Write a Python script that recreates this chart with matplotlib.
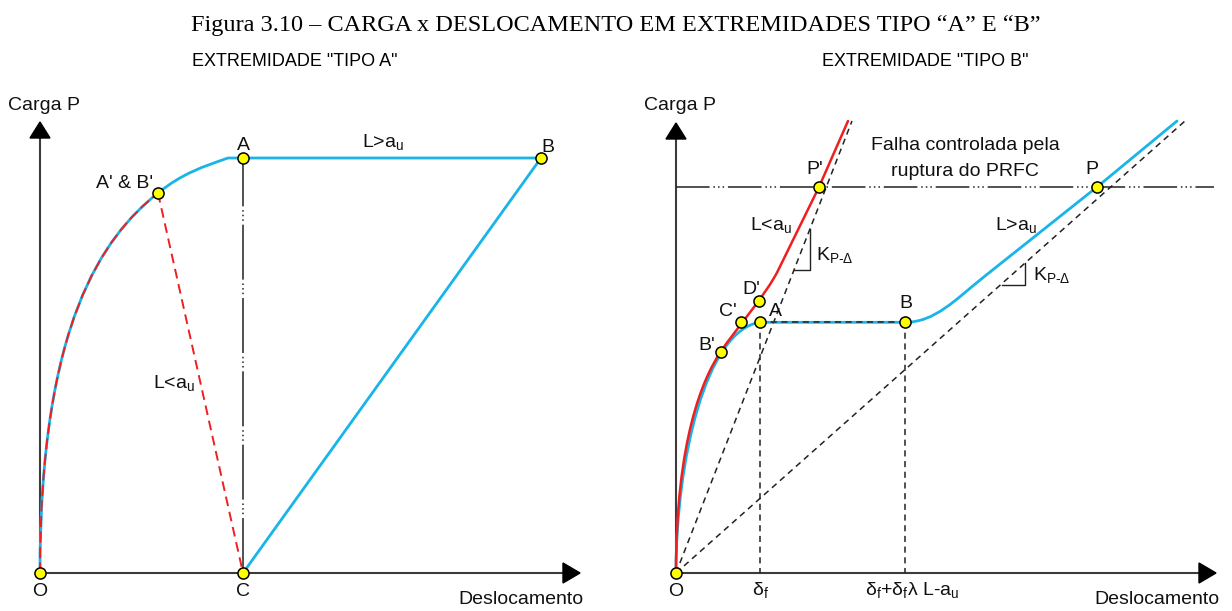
import matplotlib.pyplot as plt
from matplotlib.path import Path
from matplotlib.patches import PathPatch

plt.rcParams['font.family'] = ['Liberation Sans', 'DejaVu Sans']
plt.rcParams['mathtext.fontset'] = 'custom'
plt.rcParams['mathtext.rm'] = 'Liberation Sans'

# cores
azul = '#19B4E8'
vermelho = '#F01E1E'
eixo = '#3C3C3C'

# ---- painel "TIPO A" (coordenadas em pixels da figura) ----
origem_a = (40, 573)
topo_a = 122          # ponta da seta vertical
fim_a = 580           # ponta da seta horizontal

# curva O -> A'&B' -> inicio do patamar (pontos + controles de Bezier)
curva_a = [(40, 573), (40, 323), (103, 237), (158, 193),
           (183, 173), (203, 166.75), (228, 158), (541, 158)]
ponto_ab = (158, 193)
ponto_c = (243, 573)
ponto_b = (541, 158)

pontos_a_x = [40, 243, 243, 541, 158]
pontos_a_y = [573, 573, 158, 158, 193]

# ---- painel "TIPO B" ----
origem_b = (676, 573)
topo_b = 123
fim_b = 1216

curva_azul = [(676, 573), (676, 460), (706, 330), (760, 322.3), (905, 322.3),
              (935, 322.3), (955, 299.9), (985, 276), (1097, 187), (1177, 121)]
curva_verm = [(676, 573), (676, 440), (702.7, 378.7), (720.7, 351.7),
              (735.7, 329.2), (766.3, 294.6), (778.3, 270), (819, 187), (848, 121)]

rigidez_verm = (852, 121)   # fim da reta tracejada K (L<au)
rigidez_azul = (1185, 121)  # fim da reta tracejada K (L>au)
delta_f = 760
delta_fl = 905
nivel_ab = 322.3
nivel_ruptura = 187

pontos_b_x = [676, 720.7, 741, 760, 759.3, 905, 819, 1097]
pontos_b_y = [573, 351.7, 322.3, 322.3, 301, 322.3, 187, 187]

tri1_x = [794, 810, 810]
tri1_y = [270, 270, 229]
tri2_x = [1002, 1025, 1025]
tri2_y = [285, 285, 263]

kpd = "K$_{\\mathregular{P}\\text{-}\\mathregular{Δ}}$"
# rotulos: texto, x, y, alinhamento
rotulos = [
    ("Carga P", 44, 105, 'center'),
    ("A' & B'", 153, 184, 'right'),
    ("A", 243, 146, 'center'),
    ("B", 548, 147, 'center'),
    ("L>a$_\\mathregular{u}$", 383, 143, 'center'),
    ("L<a$_\\mathregular{u}$", 174, 384, 'center'),
    ("O", 40, 591, 'center'),
    ("C", 243, 591, 'center'),
    ("Deslocamento", 584, 600, 'right'),
    ("Carga P", 680, 105, 'center'),
    ("Falha controlada pela", 965, 146, 'center'),
    ("ruptura do PRFC", 965, 171, 'center'),
    ("P'", 815, 170, 'center'),
    ("P", 1092, 170, 'center'),
    ("L<a$_\\mathregular{u}$", 771, 226, 'center'),
    (kpd, 816, 256, 'left'),
    ("L>a$_\\mathregular{u}$", 1016, 226, 'center'),
    (kpd, 1033, 276, 'left'),
    ("D'", 751, 290, 'center'),
    ("C'", 728, 312, 'center'),
    ("A", 775, 311, 'center'),
    ("B", 906, 304, 'center'),
    ("B'", 707, 345, 'center'),
    ("O", 676, 591, 'center'),
    ("δ$_\\mathregular{f}$", 760, 591, 'center'),
    ("δ$_\\mathregular{f}$+δ$_\\mathregular{f}$λ L-a$_\\mathregular{u}$", 912, 591, 'center'),
    ("Deslocamento", 1220, 600, 'right'),
]

fig = plt.figure(figsize=(12.32, 6.11), dpi=100)
ax = fig.add_axes([0, 0, 1, 1])
ax.set_xlim(0, 1232)
ax.set_ylim(611, 0)
ax.axis('off')


def eixos(ax, o, topo, fim):
    ax.plot([o[0], o[0]], [o[1], topo + 14], color=eixo, lw=1.5, zorder=1)
    ax.plot([o[0], fim - 14], [o[1], o[1]], color=eixo, lw=1.5, zorder=1)
    ax.fill([o[0] - 10, o[0] + 10, o[0]], [topo + 16, topo + 16, topo], color='black', zorder=2)
    ax.fill([fim - 17, fim - 17, fim], [o[1] - 10, o[1] + 10, o[1]], color='black', zorder=2)


def caminho(pts, codigos, **kw):
    ax.add_patch(PathPatch(Path(pts, codigos), fill=False, capstyle='round', **kw))


M, C4, L = Path.MOVETO, Path.CURVE4, Path.LINETO

eixos(ax, origem_a, topo_a, fim_a)
eixos(ax, origem_b, topo_b, fim_b)

traco_ponto = (0, (22, 2.5, 1, 2, 1, 2, 1, 2.5))
tracejado = (0, (4, 3))

# painel A
ax.plot([ponto_c[0], ponto_c[0]], [ponto_c[1], ponto_b[1]], color='#222222', lw=1.1,
        ls=(0, (36, 2.5, 1, 2, 1, 2, 1, 2.5)), zorder=2)
caminho(curva_a, [M, C4, C4, C4, C4, C4, C4, L], color=azul, lw=2.0, zorder=3)
ax.plot([ponto_b[0], ponto_c[0]], [ponto_b[1], ponto_c[1]], color=azul, lw=2.0, zorder=3)
caminho(curva_a[:4], [M, C4, C4, C4], color=vermelho, lw=1.4, ls=(0, (5, 3)), zorder=4)
ax.plot([ponto_ab[0], ponto_c[0]], [ponto_ab[1], ponto_c[1]], color=vermelho, lw=1.4,
        ls=(0, (5, 3)), zorder=4)
ax.plot(pontos_a_x, pontos_a_y, 'o', ms=8, mfc='#FFFF00', mec='black', mew=1.1, zorder=6)

# painel B
ax.plot([origem_b[0], fim_b - 2], [nivel_ruptura, nivel_ruptura], color='#222222', lw=1.1,
        ls=traco_ponto, zorder=2)
ax.plot([origem_b[0], rigidez_verm[0]], [origem_b[1], rigidez_verm[1]], color='#222222', lw=1.1,
        ls=tracejado, zorder=2)
ax.plot([origem_b[0], rigidez_azul[0]], [origem_b[1], rigidez_azul[1]], color='#222222', lw=1.1,
        ls=tracejado, zorder=2)
ax.plot([delta_f, delta_f], [nivel_ab, origem_b[1]], color='#222222', lw=1.1, ls=tracejado, zorder=2)
ax.plot([delta_fl, delta_fl], [nivel_ab, origem_b[1]], color='#222222', lw=1.1, ls=tracejado, zorder=2)
caminho(curva_azul, [M, C4, C4, C4, L, C4, C4, C4, L, L], color=azul, lw=2.0, zorder=3)
caminho(curva_verm, [M, C4, C4, C4, C4, C4, C4, L, L], color=vermelho, lw=1.8, zorder=3)
ax.plot([delta_f, delta_fl], [nivel_ab, nivel_ab], color='#222222', lw=1.1, ls=tracejado, zorder=4)
ax.plot(tri1_x, tri1_y, color='#222222', lw=1.0, zorder=2)
ax.plot(tri2_x, tri2_y, color='#222222', lw=1.0, zorder=2)
ax.plot(pontos_b_x, pontos_b_y, 'o', ms=8, mfc='#FFFF00', mec='black', mew=1.1, zorder=6)

for txt, x, y, ha in rotulos:
    ax.text(x, y, txt, fontsize=14, ha=ha, va='center', color='#111111', zorder=7)

ax.text(616, 25, "Figura 3.10 – CARGA x DESLOCAMENTO EM EXTREMIDADES TIPO “A” E “B”",
        fontsize=17.5, family=['Liberation Serif', 'DejaVu Serif'], ha='center', va='center')
ax.text(295, 62, 'EXTREMIDADE "TIPO A"', fontsize=13, ha='center', va='center')
ax.text(925, 62, 'EXTREMIDADE "TIPO B"', fontsize=13, ha='center', va='center')

fig.savefig('out.png', dpi=100)
